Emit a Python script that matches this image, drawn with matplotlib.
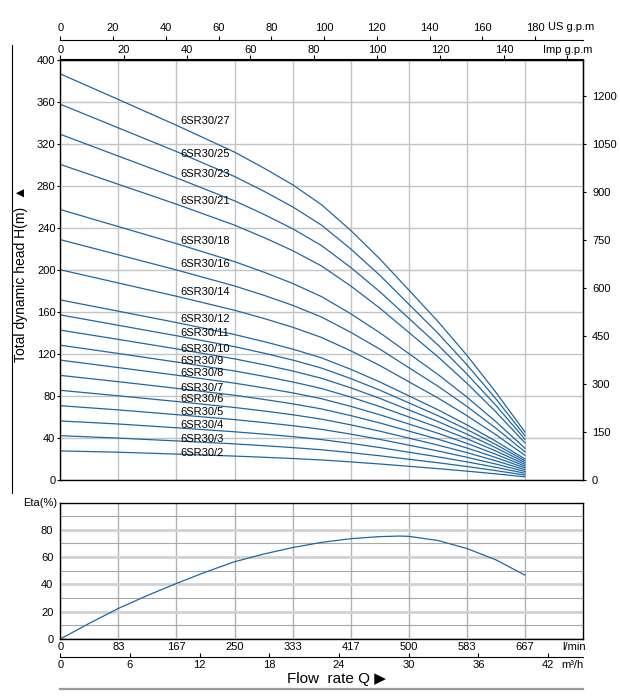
import matplotlib
matplotlib.use("Agg")
import matplotlib.pyplot as plt
from matplotlib.lines import Line2D

plt.rcParams['font.family'] = ['Liberation Sans', 'DejaVu Sans']
plt.rcParams['font.size'] = 8

# flow rate points (m3/h) where the curves were read
flow = [0, 5, 10, 15, 17.5, 20, 22.5, 25, 27.5, 30, 32.5, 35, 37.5, 40]

models = ['6SR30/2', '6SR30/3', '6SR30/4', '6SR30/5', '6SR30/6', '6SR30/7',
          '6SR30/8', '6SR30/9', '6SR30/10', '6SR30/11', '6SR30/12', '6SR30/14',
          '6SR30/16', '6SR30/18', '6SR30/21', '6SR30/23', '6SR30/25', '6SR30/27']

# head (m) for every model at the flow points above
heads = [
    [28.0, 26.8, 25.0, 23.1, 22.0, 20.8, 19.4, 17.6, 15.6, 13.4, 11.2, 8.8, 6.2, 3.4],
    [42.5, 40.2, 37.5, 34.7, 33.0, 31.2, 29.1, 26.4, 23.4, 20.1, 16.8, 13.2, 9.3, 5.1],
    [56.5, 53.6, 50.0, 46.2, 44.0, 41.6, 38.8, 35.2, 31.2, 26.8, 22.4, 17.6, 12.4, 6.8],
    [71.0, 67.0, 62.5, 57.8, 55.0, 52.0, 48.5, 44.0, 39.0, 33.5, 28.0, 22.0, 15.5, 8.5],
    [85.6, 80.4, 75.0, 69.3, 66.0, 62.4, 58.2, 52.8, 46.8, 40.2, 33.6, 26.4, 18.6, 10.2],
    [99.8, 93.8, 87.5, 80.9, 77.0, 72.8, 67.9, 61.6, 54.6, 46.9, 39.2, 30.8, 21.7, 11.9],
    [114.3, 107.2, 100.0, 92.4, 88.0, 83.2, 77.6, 70.4, 62.4, 53.6, 44.8, 35.2, 24.8, 13.6],
    [128.5, 120.6, 112.5, 104.0, 99.0, 93.6, 87.3, 79.2, 70.2, 60.3, 50.4, 39.6, 27.9, 15.3],
    [142.8, 134.0, 125.0, 115.5, 110.0, 104.0, 97.0, 88.0, 78.0, 67.0, 56.0, 44.0, 31.0, 17.0],
    [157.3, 147.4, 137.5, 127.1, 121.0, 114.4, 106.7, 96.8, 85.8, 73.7, 61.6, 48.4, 34.1, 18.7],
    [171.5, 160.8, 150.0, 138.6, 132.0, 124.8, 116.4, 105.6, 93.6, 80.4, 67.2, 52.8, 37.2, 20.4],
    [200.2, 187.6, 175.0, 161.7, 154.0, 145.6, 135.8, 123.2, 109.2, 93.8, 78.4, 61.6, 43.4, 23.8],
    [228.8, 214.4, 200.0, 184.8, 176.0, 166.4, 155.2, 140.8, 124.8, 107.2, 89.6, 70.4, 49.6, 27.2],
    [257.4, 241.2, 225.0, 207.9, 198.0, 187.2, 174.6, 158.4, 140.4, 120.6, 100.8, 79.2, 55.8, 30.6],
    [300.3, 281.4, 262.5, 242.6, 231.0, 218.4, 203.7, 184.8, 163.8, 140.7, 117.6, 92.4, 65.1, 35.7],
    [328.9, 308.2, 287.5, 265.7, 253.0, 239.2, 223.1, 202.4, 179.4, 154.1, 128.8, 101.2, 71.3, 39.1],
    [357.5, 335.0, 312.5, 288.8, 275.0, 260.0, 242.5, 220.0, 195.0, 167.5, 140.0, 110.0, 77.5, 42.5],
    [386.3, 362.0, 337.5, 312.0, 297.0, 281.0, 261.9, 237.6, 210.6, 181.0, 151.2, 119.0, 83.7, 46.0],
]

eta_flow = [0, 2.5, 5, 7.5, 10, 12.5, 15, 17.5, 20, 22.5, 25, 27.5, 29.2, 30,
            32.5, 35, 37.5, 40]
eta = [0, 11.5, 22.4, 31.9, 40.7, 49.0, 56.6, 62.2, 67.0, 70.8, 73.5, 75.0, 75.4, 75.2,
       72.2, 66.3, 58.0, 46.8]

lpm_labels = ['0', '83', '167', '250', '333', '417', '500', '583', '667']
m3h_ticks = [0, 6, 12, 18, 24, 30, 36, 42]
us_ticks = [0, 20, 40, 60, 80, 100, 120, 140, 160, 180]
imp_ticks = [0, 20, 40, 60, 80, 100, 120, 140, 160]
head_ticks = [0, 40, 80, 120, 160, 200, 240, 280, 320, 360, 400]
feet_ticks = [0, 150, 300, 450, 600, 750, 900, 1050, 1200]

# label placement (m3/h, m)
label_x = 10.37
label_y = [25.8, 39.4, 52.4, 65.4, 77.4, 88.1, 101.8, 113.8, 124.9, 139.8,
           153.4, 179.4, 205.7, 227.3, 265.6, 291.5, 310.6, 341.6]

W, H = 620, 697
blue = '#1f66a3'
grid_c = '#c4c4c4'


def fx(x):
    return x / W


def fy(y):
    return 1 - y / H


fig = plt.figure(figsize=(W / 100, H / 100), dpi=100)

# ---- head chart ----
ax = fig.add_axes([fx(60.3), fy(480.4), (583 - 60.3) / W, (480.4 - 59.5) / H])
ax.set_xlim(0, 45)
ax.set_ylim(0, 400)
for h in heads:
    ax.plot(flow, h, color=blue, lw=0.9)
for name, ly in zip(models, label_y):
    ax.text(label_x, ly, name, ha='left', va='center', fontsize=8)

ax.set_xticks([0, 5, 10, 15, 20, 25, 30, 35, 40, 45])
ax.set_yticks(head_ticks)
ax.grid(True, color=grid_c, lw=1.0)
ax.set_axisbelow(True)
ax.tick_params(axis='x', length=0, labelbottom=False)
ax.tick_params(axis='y', length=2.5, width=0.8, pad=1, labelsize=8)
for s in ax.spines.values():
    s.set_linewidth(1.0)

# right axis in feet
axr = ax.secondary_yaxis('right', functions=(lambda m: m / 0.3048, lambda f: f * 0.3048))
axr.set_yticks(feet_ticks)
axr.tick_params(length=2.5, width=0.8, pad=4, labelsize=8)

# Imp g.p.m on top spine
IMP = 1000 / 60 / 4.54609
axi = ax.secondary_xaxis('top', functions=(lambda q: q * IMP, lambda g: g / IMP))
axi.set_xticks(imp_ticks)
axi.set_xticklabels([str(t) for t in imp_ticks[:-1]] + ['Imp g.p.m'])
axi.tick_params(length=3, width=0.8, pad=0.5, labelsize=8)

# US g.p.m axis above
US = 1000 / 60 / 3.78541
axu = ax.secondary_xaxis(1 + (59.5 - 40) / 420.9,
                         functions=(lambda q: q * US, lambda g: g / US))
axu.set_xticks(us_ticks)
axu.tick_params(length=3, width=0.8, pad=2, labelsize=8)
axu.spines['top'].set_linewidth(0.8)
fig.text(fx(548), fy(26.7), 'US g.p.m', ha='left', va='center', fontsize=8)

fig.text(fx(20.7), fy(274), 'Total dynamic head H(m)  \u25b2', rotation=90,
         ha='center', va='center', fontsize=10)
fig.add_artist(Line2D([fx(11.7), fx(11.7)], [fy(45), fy(493)], color='black', lw=0.8))

# ---- efficiency chart ----
ax2 = fig.add_axes([fx(60.3), fy(639), (583 - 60.3) / W, (639 - 502.5) / H])
ax2.set_xlim(0, 45)
ax2.set_ylim(0, 100)
ax2.plot(eta_flow, eta, color=blue, lw=0.9)
ax2.set_xticks([0, 5, 10, 15, 20, 25, 30, 35, 40])
ax2.set_xticklabels(lpm_labels)
ax2.set_yticks([0, 20, 40, 60, 80])
ax2.set_yticks([10, 30, 50, 70, 90], minor=True)
ax2.grid(True, which='major', axis='y', color='#d2d2d2', lw=2.0)
ax2.grid(True, which='minor', axis='y', color='#a8a8a8', lw=0.8)
ax2.grid(True, which='major', axis='x', color='#b0b0b0', lw=1.0)
ax2.set_axisbelow(True)
ax2.tick_params(which='both', length=0, labelsize=8)
ax2.tick_params(axis='x', pad=2)
ax2.tick_params(axis='y', pad=5)
for s in ax2.spines.values():
    s.set_linewidth(1.0)

axm = ax2.secondary_xaxis(-(657.3 - 639) / 136.5)
axm.set_xticks(m3h_ticks)
axm.tick_params(direction='in', length=3, width=0.8, pad=2, labelsize=8)
axm.spines['bottom'].set_linewidth(0.8)

fig.text(fx(586), fy(646.5), 'l/min', ha='right', va='center', fontsize=8)
fig.text(fx(584), fy(665.5), 'm\u00b3/h', ha='right', va='center', fontsize=8)
fig.text(fx(57), fy(503), 'Eta(%)', ha='right', va='center', fontsize=8)
fig.text(fx(336), fy(679.5), 'Flow  rate Q \u25b6', ha='center', va='center', fontsize=11)
fig.add_artist(Line2D([fx(60), fx(583)], [fy(689), fy(689)], color='#9a9a9a', lw=1.6))

fig.savefig('out.png', dpi=100)
